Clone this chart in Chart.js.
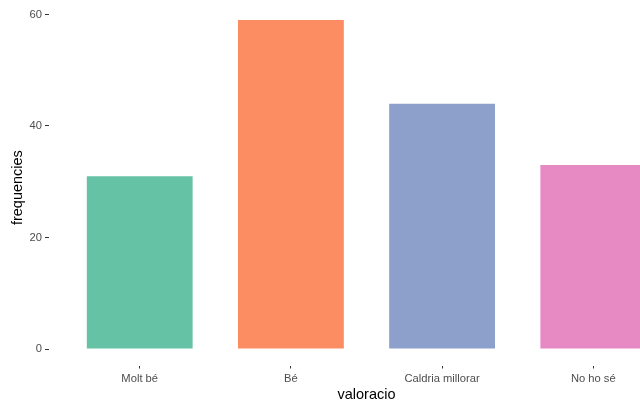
<!DOCTYPE html>
<html>
<head>
<meta charset="utf-8">
<script src="https://cdn.jsdelivr.net/npm/chart.js@4"></script>
<style>
  html, body { margin: 0; padding: 0; background: #fff; overflow: hidden; }
  #wrap { width: 684px; height: 404px; }
</style>
</head>
<body>
<div id="wrap"><canvas id="bars" width="684" height="404"></canvas></div>
<script>
const categories = ["Molt bé", "Bé", "Caldria millorar", "No ho sé"];
const frequencies = [31, 59, 44, 33];
const colors = ["#66C2A5", "#FC8D62", "#8DA0CB", "#E78AC3"];
const yTicks = [0, 20, 40, 60];

const points = frequencies.map((v, i) => ({ x: i, y: v }));

const ctx = document.getElementById("bars");

new Chart(ctx, {
  type: "bar",
  data: {
    datasets: [
      {
        label: "frequencies",
        data: points,
        backgroundColor: colors,
        borderWidth: 0,
        barPercentage: 0.7,
        categoryPercentage: 1,
      },
    ],
  },
  options: {
    responsive: false,
    animation: false,
    layout: { padding: { top: 2, left: 0, right: 0, bottom: 0 } },
    plugins: { legend: { display: false }, tooltip: { enabled: false } },
    scales: {
      x: {
        type: "linear",
        offset: false,
        min: -0.6,
        max: 3.6,
        afterBuildTicks: (s) => {
          s.ticks = categories.map((c, i) => ({ value: i }));
        },
        afterFit: (s) => { s.height = 38.5; },
        ticks: {
          callback: (v) => categories[v],
          color: "#4D4D4D",
          font: { family: "Liberation Sans", size: 11.2 },
          padding: 4,
          maxRotation: 0,
          autoSkip: false,
        },
        grid: { offset: false, drawOnChartArea: false, drawTicks: true, tickLength: 3, color: "#333333" },
        border: { display: false },
        title: {
          display: true,
          text: "valoracio",
          color: "#000",
          font: { family: "Liberation Sans", size: 14.5 },
          padding: { top: 0, bottom: 0 },
        },
      },
      y: {
        min: -2.95,
        max: 60.85,
        afterBuildTicks: (s) => {
          s.ticks = yTicks.map((v) => ({ value: v }));
        },
        afterFit: (s) => { s.width = 49; },
        ticks: {
          color: "#4D4D4D",
          font: { family: "Liberation Sans", size: 11.2 },
          padding: 3,
        },
        grid: { drawOnChartArea: false, drawTicks: true, tickLength: 4, color: "#333333" },
        border: { display: false },
        title: {
          display: true,
          text: "frequencies",
          color: "#000",
          font: { family: "Liberation Sans", size: 14.5 },
          padding: { top: 9, bottom: 0 },
        },
      },
    },
  },
});
</script>
</body>
</html>
